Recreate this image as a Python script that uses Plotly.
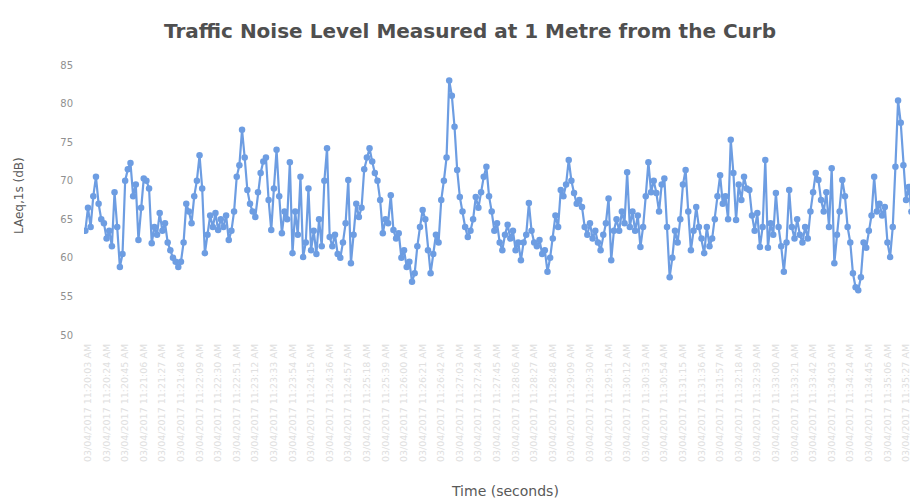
import plotly.graph_objects as go
from datetime import datetime, timedelta

chart_title = "Traffic Noise Level Measured at 1 Metre from the Curb"
y_title = "LAeq,1s (dB)"
x_title = "Time (seconds)"

# LAeq,1s readings (dB)
laeq = [
    63.5, 66.5, 64.0, 68.0, 70.5, 67.0, 65.0, 64.5, 62.5, 63.5, 61.5, 68.5,
    64.0, 58.8, 60.5, 70.0, 71.5, 72.3, 68.0, 69.5, 62.3, 66.5, 70.3, 70.0,
    69.0, 61.9, 64.0, 63.0, 65.8, 63.5, 64.5, 62.0, 61.0, 60.0, 59.5, 58.8,
    59.5, 62.0, 67.0, 66.0, 64.5, 68.0, 70.0, 73.3, 69.0, 60.6, 63.0, 65.5,
    64.0, 65.8, 63.6, 65.0, 64.0, 65.5, 62.3, 63.5, 66.0, 70.5, 72.0, 76.6,
    73.0, 68.8, 67.0, 66.0, 65.3, 68.5, 71.0, 72.5, 73.0, 67.5, 63.6, 69.0,
    74.0, 68.0, 63.2, 66.0,
    65.0, 72.4, 60.6, 66.0, 63.0, 70.5, 60.1, 62.0, 69.0, 61.0, 63.5, 60.5,
    65.0, 61.5, 70.0, 74.2, 62.7, 61.5, 63.0, 60.5, 60.0, 62.0, 64.5, 70.1,
    59.3, 63.0, 67.0, 65.3, 66.5, 71.5, 73.0, 74.2, 72.5, 71.0, 70.0, 67.5,
    63.2, 65.0, 64.5, 68.1, 63.6, 62.5, 63.2, 60.0, 61.0, 58.8, 59.5, 56.9,
    58.0, 61.5, 64.0, 66.2, 65.0, 61.0, 58.0, 60.5, 63.0, 62.0, 67.5, 70.0,
    73.0, 83.0, 81.0, 77.0, 71.4, 67.9, 66.0, 64.0, 62.7, 63.5, 65.0, 67.9,
    66.5, 68.5, 70.5, 71.8,
    68.0, 66.0, 63.5, 64.5, 62.0, 61.0, 63.0, 64.3, 62.5, 63.5, 61.0, 62.0,
    59.7, 62.0, 63.0, 67.1, 63.5, 62.0, 61.5, 62.3, 60.5, 61.0, 58.2, 60.0,
    62.5, 65.5, 64.0, 68.8, 68.0, 69.5, 72.7, 70.0, 68.4, 67.0, 67.5, 66.6,
    64.0, 63.0, 64.5, 62.5, 63.5, 62.0, 61.0, 63.0, 64.5, 67.7, 59.7, 63.5,
    65.0, 63.5, 66.0, 64.5, 71.1, 64.0, 66.0, 63.5, 65.5, 61.4, 64.0, 68.0,
    72.4, 68.5, 70.0, 68.4, 66.0, 69.5, 70.3, 64.0, 57.5, 60.0, 63.5, 62.0,
    65.0, 69.5, 71.4, 66.0, 61.0, 63.5, 66.6, 64.0, 62.5, 60.6, 64.0, 61.5,
    62.5, 65.0, 68.0, 70.7, 67.0, 68.0, 65.0, 75.3, 71.0, 64.9, 69.5, 67.5,
    70.5, 69.0, 68.8, 65.5, 63.5, 65.8, 61.4, 64.0, 72.7, 61.3, 64.5, 63.0,
    68.4, 64.0, 61.5, 58.2, 62.0, 68.8, 64.0, 62.5, 65.0, 63.0, 62.0, 64.0,
    62.5, 66.0, 68.5, 71.0, 70.1, 67.5, 66.0, 68.5, 64.0, 71.6, 59.3, 63.0,
    66.0, 70.1, 68.0, 64.0, 62.0, 58.0, 56.2, 55.8, 57.5, 62.0, 61.3, 63.5,
    65.5, 70.5, 66.0, 67.0, 65.5, 66.6, 62.0, 60.1, 64.0, 71.8, 80.4, 77.5,
    72.0, 67.5, 69.2, 66.0, 68.5, 65.5,
]

start_time = datetime(2017, 4, 3, 11, 20, 0)
step_seconds = 3
time_labels = [(start_time + timedelta(seconds=step_seconds * i)).strftime("%d/%m/%Y %I:%M:%S %p")
               for i in range(len(laeq))]
tick_every = 7
tick_index = list(range(1, len(laeq), tick_every))
tick_text = [time_labels[i] for i in tick_index]

y_ticks = [50, 55, 60, 65, 70, 75, 80, 85]

idx = list(range(len(laeq)))
blue = "#6d9de2"

fig = go.Figure()
fig.add_trace(go.Scatter(
    x=idx, y=laeq, mode="lines+markers",
    line=dict(color=blue, width=2.2),
    marker=dict(color=blue, size=6.5),
    text=time_labels, hovertemplate="%{text}<br>%{y} dB<extra></extra>",
    showlegend=False,
))

# the page adds an 8 px body margin, so the figure is laid out in shifted pixels
OFF = 8
W, H = 918 - OFF, 502 - OFF
plot_left, plot_top, plot_bottom = 84, 65, 335   # wanted screen pixels
L, T = plot_left - OFF, plot_top - OFF
B = H - (plot_bottom - OFF)
R = 0
plot_w = W - L - R
plot_h = H - T - B


def px_x(sx):
    return (sx - plot_left) / plot_w


def px_y(sy):
    return (plot_bottom - sy) / plot_h


fig.update_layout(
    width=W, height=H,
    margin=dict(l=L, r=R, t=T, b=B, autoexpand=False),
    paper_bgcolor="white", plot_bgcolor="white",
    font=dict(family="DejaVu Sans, sans-serif", color="#595959"),
    title=dict(text=chart_title, x=(470 - OFF) / W, xanchor="center", xref="container",
               y=1 - (31 - OFF) / H, yanchor="middle", yref="container",
               font=dict(size=20, color="#4f4f4f", weight="bold")),
)
fig.update_xaxes(
    range=[-0.5, len(laeq) - 0.5], automargin=False,
    tickmode="array", tickvals=tick_index, ticktext=tick_text,
    tickangle=-90, tickfont=dict(size=9.5, color="#e0e0e0"),
    showgrid=False, zeroline=False, showline=False, ticks="",
    ticklabelstandoff=6,
)
fig.update_yaxes(
    range=[50, 85], tickmode="array", tickvals=y_ticks, automargin=False,
    tickfont=dict(size=10, color="#909090"),
    showgrid=False, zeroline=False, showline=False, ticks="",
    ticklabelstandoff=10,
)
fig.add_annotation(text=y_title, textangle=-90, showarrow=False,
                   xref="paper", yref="paper",
                   x=px_x(19), y=px_y(196),
                   xanchor="center", yanchor="middle",
                   font=dict(size=12, color="#595959"))
fig.add_annotation(text=x_title, showarrow=False,
                   xref="paper", yref="paper",
                   x=px_x(505), y=px_y(491),
                   xanchor="center", yanchor="middle",
                   font=dict(size=14, color="#595959"))

fig.write_html("out.html")
